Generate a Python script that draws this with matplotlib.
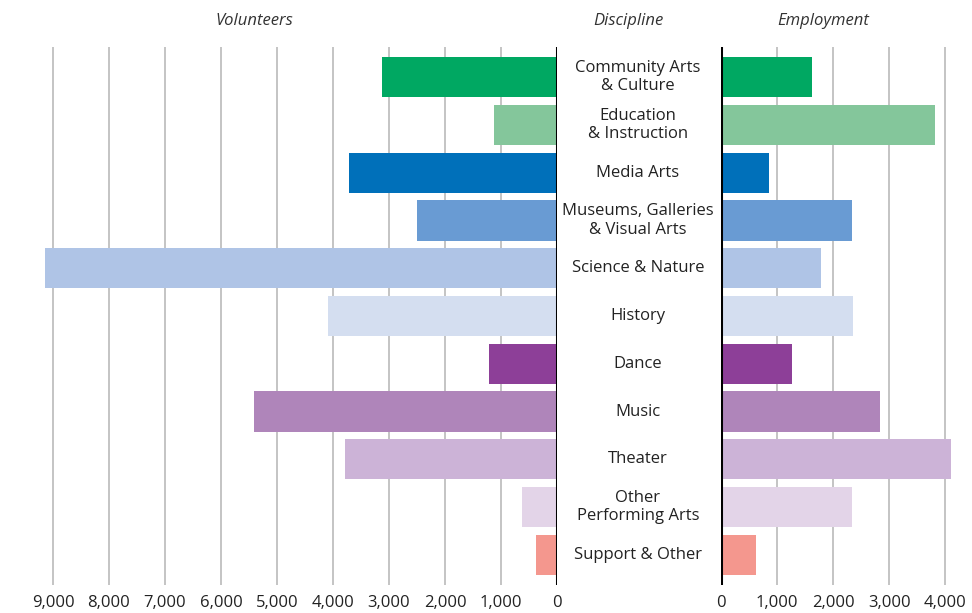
import matplotlib
matplotlib.use("Agg")
from matplotlib import pyplot as plt

plt.rcParams['font.family'] = ['Open Sans', 'DejaVu Sans']

disciplines = ["Community Arts\n& Culture", "Education\n& Instruction", "Media Arts",
               "Museums, Galleries\n& Visual Arts", "Science & Nature", "History",
               "Dance", "Music", "Theater", "Other\nPerforming Arts", "Support & Other"]
volunteers = [3120, 1120, 3710, 2500, 9140, 4090, 1210, 5410, 3790, 630, 380]
employment = [1620, 3820, 860, 2340, 1790, 2360, 1270, 2840, 4110, 2340, 630]
colors = ["#00a862", "#84c69b", "#0070ba", "#699bd3", "#afc4e6", "#d4def0",
          "#8d3f98", "#af85ba", "#ccb3d7", "#e3d4e8", "#f4978e"]
vol_ticks = list(range(0, 10000, 1000))
emp_ticks = list(range(0, 5000, 1000))

W, H = 972, 613
fig = plt.figure(figsize=(W / 100, H / 100), dpi=100)

def px_axes(x0, x1, y0, y1):
    # pixel box (top-left origin) -> figure fraction
    return fig.add_axes([x0 / W, 1 - y1 / H, (x1 - x0) / W, (y1 - y0) / H])

top, bot = 47, 585
ax_l = px_axes(39, 557, top, bot)
ax_r = px_axes(721, 962, top, bot)

ypos = list(range(len(disciplines)))
ylim = (len(disciplines) - 1 + 0.63, -0.63)

for ax, vals, ticks, xlim in [(ax_l, volunteers, vol_ticks, (9250, 0)),
                              (ax_r, employment, emp_ticks, (0, 4300))]:
    for t in ticks[1:]:
        ax.axvline(t, color="#c4c4c4", lw=1.4, zorder=0)
    ax.barh(ypos, vals, height=0.84, color=colors, zorder=2)
    ax.set_xlim(*xlim)
    ax.set_ylim(*ylim)
    ax.set_yticks([])
    ax.set_xticks(ticks)
    ax.set_xticklabels([f"{t:,}" for t in ticks], fontsize=12, color="#222222")
    ax.tick_params(axis="x", length=0, pad=7)
    for s in ax.spines.values():
        s.set_visible(False)
    ax.axvline(0, color="black", lw=2.2, zorder=3)

for i, name in enumerate(disciplines):
    fig.text(638 / W, 1 - (77 + i * 47.8) / H, name, ha="center", va="center",
             fontsize=12, color="#222222", linespacing=1.2)

for x, txt in [(254, "Volunteers"), (628, "Discipline"), (823, "Employment")]:
    fig.text(x / W, 1 - 21 / H, txt, ha="center", va="center", fontsize=12,
             style="italic", color="#333333")

fig.savefig("out.png", dpi=100)
